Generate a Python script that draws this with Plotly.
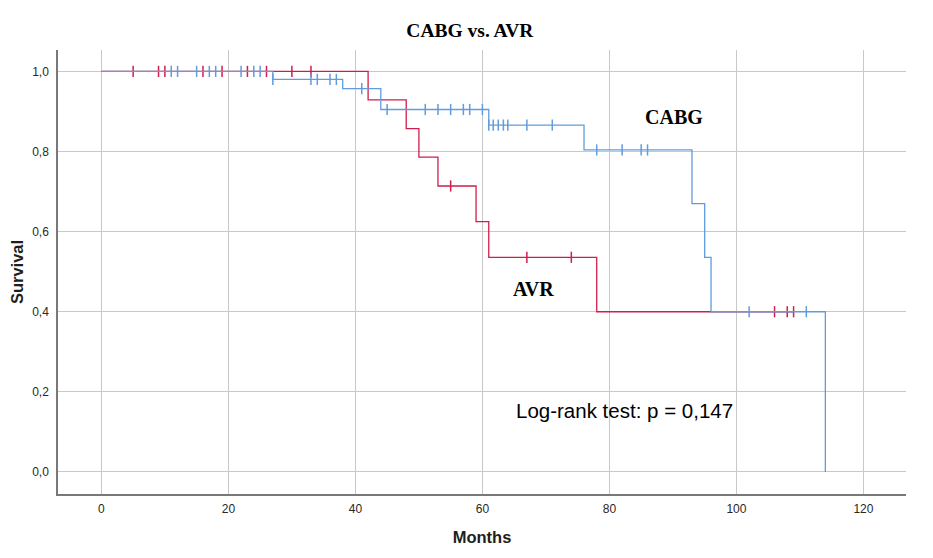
import plotly.graph_objects as go

# Kaplan-Meier estimates
# CABG group
cabg_event_months = [27, 38, 44, 61, 76, 93, 95, 96, 114]
cabg_survival = [0.980, 0.957, 0.905, 0.866, 0.804, 0.670, 0.536, 0.400, 0.0]
cabg_end = 114
cabg_censored = [11, 12, 15, 17, 18, 22, 24, 25, 27, 33, 34, 36, 37, 41,
                 45, 51, 53, 55, 57, 58, 60, 61, 61.7, 62.5, 63.3, 64, 67, 71,
                 78, 82, 85, 86, 102, 111]

# AVR group
avr_event_months = [42, 48, 50, 53, 59, 61, 78]
avr_survival = [0.929, 0.857, 0.786, 0.714, 0.625, 0.536, 0.400]
avr_end = 109
avr_censored = [5, 9, 10, 16, 19, 23, 26, 30, 33, 55, 67, 74, 106, 108, 109]

x_ticks = [0, 20, 40, 60, 80, 100, 120]
y_ticks = [0.0, 0.2, 0.4, 0.6, 0.8, 1.0]

BLUE = 'rgb(98,155,222)'
RED = 'rgb(208,30,78)'


def step_points(events, surv, end):
    xs = [0] + list(events) + [end]
    ys = [1.0] + list(surv) + [surv[-1]]
    return xs, ys


def surv_at(t, events, surv):
    s = 1.0
    for e, v in zip(events, surv):
        if e <= t:
            s = v
    return s


fig = go.Figure()

# Step curves - red first so blue sits on top where they overlap
for name, ev, sv, end, cens, col in [
        ("AVR", avr_event_months, avr_survival, avr_end, avr_censored, RED),
        ("CABG", cabg_event_months, cabg_survival, cabg_end, cabg_censored, BLUE)]:
    xs, ys = step_points(ev, sv, end)
    fig.add_trace(go.Scatter(x=xs, y=ys, mode='lines', line=dict(color=col, width=1.3, shape='hv'),
                             name=name, showlegend=False, hoverinfo='skip'))
    fig.add_trace(go.Scatter(x=cens, y=[surv_at(t, ev, sv) for t in cens], mode='markers',
                             marker=dict(symbol='line-ns', size=8, line=dict(color=col, width=1.5)),
                             name=name + " censored", showlegend=False))

# Group labels and test result
fig.add_annotation(x=90.1, y=0.887, text="<b>CABG</b>", showarrow=False,
                   font=dict(family="Liberation Serif", size=20, color='black'))
fig.add_annotation(x=68.1, y=0.457, text="<b>AVR</b>", showarrow=False,
                   font=dict(family="Liberation Serif", size=20, color='black'))
fig.add_annotation(x=82.3, y=0.153, text="Log-rank test: p = 0,147", showarrow=False,
                   font=dict(family="Liberation Sans", size=20.5, color='black'))

# the page body adds an 8px offset, margins are shifted to compensate
fig.update_layout(
    width=933, height=558,
    margin=dict(l=50, r=35, t=42, b=72, autoexpand=False),
    plot_bgcolor='white', paper_bgcolor='white',
    separators=',.',
    font=dict(family="Liberation Sans", size=12, color='rgb(40,40,40)'),
    title=dict(text="<b>CABG vs. AVR</b>", x=0.495, xanchor='center', y=0.961, yanchor='middle',
               font=dict(family="Liberation Serif", size=19.5, color='black')),
)

fig.update_xaxes(range=[-6.83, 126.7], tickvals=x_ticks, showgrid=True, gridcolor='rgb(200,200,200)',
                 gridwidth=1, zeroline=False, showline=True, linecolor='rgb(120,120,120)', linewidth=1.5,
                 ticks='', ticklabelstandoff=3,
                 title=dict(text="<b>Months</b>", font=dict(size=16.5, color='rgb(30,30,30)'), standoff=16))
fig.update_yaxes(range=[-0.055, 1.0535], tickvals=y_ticks, tickformat='.1f', showgrid=True,
                 gridcolor='rgb(200,200,200)', gridwidth=1, zeroline=False, showline=True,
                 linecolor='rgb(120,120,120)', linewidth=1.5, ticks='', ticklabelstandoff=5,
                 title=dict(text="<b>Survival</b>", font=dict(size=16.5, color='rgb(30,30,30)'), standoff=16))

fig.write_html("out.html")
